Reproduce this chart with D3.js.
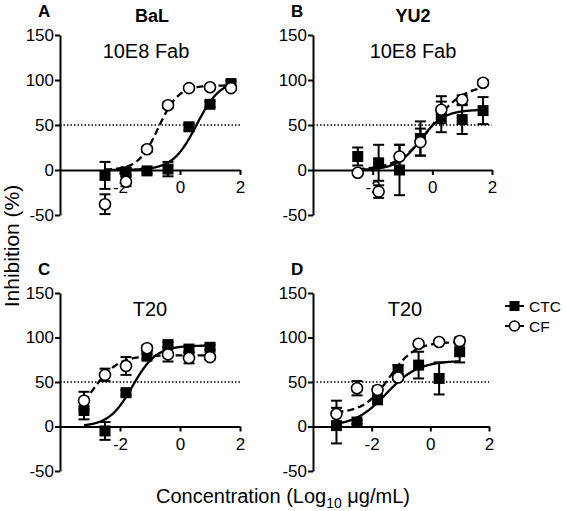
<!DOCTYPE html>
<html><head><meta charset="utf-8">
<script src="https://cdn.jsdelivr.net/npm/d3@7"></script>
<style>body{margin:0;background:#fff} svg{display:block} text{font-family:"Liberation Sans",Arial,Helvetica,sans-serif;fill:#000}</style>
</head><body><svg id="c" width="566" height="511"></svg>
<script>
// ---- data ----
const xTicks = [-2, 0, 2];
const yTicks = [-50, 0, 50, 100, 150];
const xFab = [-2.5, -1.8, -1.1, -0.4, 0.3, 1.0, 1.7];
const xT20 = [-3.2, -2.5, -1.8, -1.1, -0.4, 0.3, 1.0];

const balFabCTC = [-6, -2, -1, 1, 48, 73, 96];
const balFabCTCerr = [15, 4, 3, 8, 4, 3, 3];
const balFabCF = [-38, -13, 23, 72, 91, 92, 91];
const balFabCFerr = [11, 5, 3, 3, 2, 2, 2];

const yu2FabCTC = [15, 8, 0, 35, 59, 56, 66];
const yu2FabCTCerr = [10, 20, 28, 19, 17, 16, 15];
const yu2FabCF = [-3, -24, 15, 31, 67, 78, 97];
const yu2FabCFerr = [2, 7, 13, 15, 15, 5, 3];

const balT20CTC = [18, -5, 38, 79, 92, 87, 89];
const balT20CTCerr = [10, 10, 3, 3, 3, 3, 3];
const balT20CF = [29, 58, 68, 88, 81, 77, 78];
const balT20CFerr = [10, 7, 10, 3, 8, 6, 3];

const yu2T20CTC = [1, 5, 30, 64, 69, 54, 84];
const yu2T20CTCerr = [20, 2, 4, 5, 15, 18, 12];
const yu2T20CF = [14, 43, 41, 55, 93, 95, 96];
const yu2T20CFerr = [15, 8, 4, 3, 3, 2, 4];

// fitted dose-response curves: [bottom, top, logEC50, hill]
const fitBalFabCTC = [0, 100, 0.55, 1.1];
const fitBalFabCF = [0, 94, -0.72, 1.3];
const fitYu2FabCTC = [0, 67, -0.4, 1.1];
const fitYu2FabCF = [0, 95, -0.05, 0.8];
const fitBalT20CTC = [0, 91, -1.58, 1.1];
const fitBalT20CF = [0, 80, -2.93, 1.0];
const fitYu2T20CTC = [0, 74, -1.5, 0.8];
const fitYu2T20CF = [15, 95, -1.4, 1.0];

const seriesNames = ["CTC", "CF"];
const panelLetters = ["A", "B", "C", "D"];
const virusNames = ["BaL", "YU2"];
const drugNames = ["10E8 Fab", "10E8 Fab", "T20", "T20"];

// ---- layout ----
const svg = d3.select("#c");
const boxes = [
  {x0: 60, x1: 240, y0: 35, y1: 215, vx: 152, dx: 146},
  {x0: 313, x1: 492, y0: 35, y1: 215, vx: 413, dx: 413},
  {x0: 60, x1: 240, y0: 293, y1: 471, dx: 150},
  {x0: 313, x1: 489, y0: 293, y1: 471, dx: 405}
];
const panels = [
  {x: xFab, ctc: balFabCTC, ctcErr: balFabCTCerr, cf: balFabCF, cfErr: balFabCFerr, fCTC: fitBalFabCTC, fCF: fitBalFabCF},
  {x: xFab, ctc: yu2FabCTC, ctcErr: yu2FabCTCerr, cf: yu2FabCF, cfErr: yu2FabCFerr, fCTC: fitYu2FabCTC, fCF: fitYu2FabCF},
  {x: xT20, ctc: balT20CTC, ctcErr: balT20CTCerr, cf: balT20CF, cfErr: balT20CFerr, fCTC: fitBalT20CTC, fCF: fitBalT20CF},
  {x: xT20, ctc: yu2T20CTC, ctcErr: yu2T20CTCerr, cf: yu2T20CF, cfErr: yu2T20CFerr, fCTC: fitYu2T20CTC, fCF: fitYu2T20CF}
];

function fourPL(p, xv) { return p[0] + (p[1] - p[0]) / (1 + Math.pow(10, (p[2] - xv) * p[3])); }

panels.forEach((p, i) => {
  const b = boxes[i];
  const x = d3.scaleLinear().domain([-4, 2]).range([b.x0, b.x1]);
  const y = d3.scaleLinear().domain([-50, 150]).range([b.y1, b.y0]);
  const g = svg.append("g");

  // dotted 50% line
  g.append("line").attr("x1", x(-4)).attr("x2", x(2)).attr("y1", y(50)).attr("y2", y(50))
    .attr("stroke", "#000").attr("stroke-width", 1.3).attr("stroke-dasharray", "1.5,2");

  // axes
  const ya = g.append("g").attr("transform", `translate(${x(-4)},0)`)
    .call(d3.axisLeft(y).tickValues(yTicks).tickSize(5).tickSizeOuter(0).tickPadding(1).tickFormat(d => String(d)));
  const xa = g.append("g").attr("transform", `translate(0,${y(0)})`)
    .call(d3.axisBottom(x).tickValues(xTicks).tickSize(5).tickSizeOuter(0).tickPadding(6).tickFormat(d => String(d)));
  [ya, xa].forEach(a => {
    a.selectAll("path,line").attr("stroke", "#000").attr("stroke-width", 2);
    a.selectAll("text").attr("font-size", 17).attr("fill", "#000").attr("font-family", '"Liberation Sans",Arial,sans-serif');
  });

  // fitted curves
  const xmin = d3.min(p.x), xmax = d3.max(p.x);
  const xs = d3.range(0, 201).map(k => xmin + (xmax - xmin) * k / 200);
  const line = d3.line().x(d => x(d[0])).y(d => y(d[1]));
  g.append("path").attr("d", line(xs.map(v => [v, fourPL(p.fCTC, v)])))
    .attr("fill", "none").attr("stroke", "#000").attr("stroke-width", 2.3);
  g.append("path").attr("d", line(xs.map(v => [v, fourPL(p.fCF, v)])))
    .attr("fill", "none").attr("stroke", "#000").attr("stroke-width", 2.3).attr("stroke-dasharray", "7,4");

  // error bars + markers
  function errBars(vals, errs) {
    vals.forEach((v, k) => {
      const e = errs[k], cx = x(p.x[k]);
      g.append("line").attr("x1", cx).attr("x2", cx).attr("y1", y(v - e)).attr("y2", y(v + e)).attr("stroke", "#000").attr("stroke-width", 2);
      [v - e, v + e].forEach(t => g.append("line").attr("x1", cx - 5.5).attr("x2", cx + 5.5).attr("y1", y(t)).attr("y2", y(t)).attr("stroke", "#000").attr("stroke-width", 2));
    });
  }
  errBars(p.ctc, p.ctcErr);
  errBars(p.cf, p.cfErr);
  g.selectAll(".sq").data(p.ctc).enter().append("rect")
    .attr("x", (d, k) => x(p.x[k]) - 5.5).attr("y", d => y(d) - 5.5).attr("width", 11).attr("height", 11).attr("fill", "#000");
  g.selectAll(".ci").data(p.cf).enter().append("circle")
    .attr("cx", (d, k) => x(p.x[k])).attr("cy", d => y(d)).attr("r", 5.5)
    .attr("fill", "#fff").attr("stroke", "#000").attr("stroke-width", 1.6);

  // panel texts
  g.append("text").attr("x", b.x0 - 22).attr("y", b.y0 - 18).attr("font-size", 17).attr("font-weight", "bold").text(panelLetters[i]);
  if (i < 2) g.append("text").attr("x", b.vx).attr("y", 22).attr("text-anchor", "middle").attr("font-size", 18).attr("font-weight", "bold").text(virusNames[i]);
  g.append("text").attr("x", b.dx).attr("y", b.y0 + 23).attr("text-anchor", "middle").attr("font-size", 20).text(drugNames[i]);
});

// legend
const leg = svg.append("g");
seriesNames.forEach((s, k) => {
  const ly = 306 + k * 20;
  leg.append("line").attr("x1", 505).attr("x2", 524).attr("y1", ly).attr("y2", ly).attr("stroke", "#000").attr("stroke-width", 2);
  if (k === 0) leg.append("rect").attr("x", 509.5).attr("y", ly - 5).attr("width", 10).attr("height", 10).attr("fill", "#000");
  else leg.append("circle").attr("cx", 514.5).attr("cy", ly).attr("r", 5).attr("fill", "#fff").attr("stroke", "#000").attr("stroke-width", 1.6);
  leg.append("text").attr("x", 529).attr("y", ly + 5.5).attr("font-size", 15.5).text(s);
});

// axis titles
svg.append("text").attr("transform", "translate(19,246) rotate(-90)").attr("text-anchor", "middle").attr("font-size", 21).text("Inhibition (%)");
const xt = svg.append("text").attr("x", 283).attr("y", 503).attr("text-anchor", "middle").attr("font-size", 20);
xt.append("tspan").text("Concentration (Log");
xt.append("tspan").attr("font-size", 14).attr("dy", 5).text("10");
xt.append("tspan").attr("dy", -5).text(" μg/mL)");
</script></body></html>
